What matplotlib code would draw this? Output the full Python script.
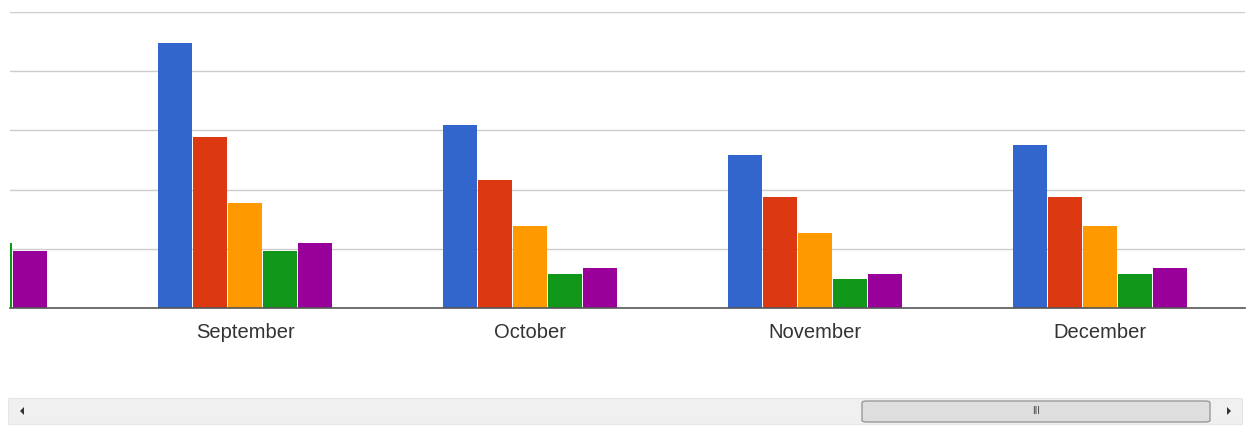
import numpy as np
import matplotlib.pyplot as plt
from matplotlib.patches import Rectangle, FancyBboxPatch, Polygon

months = ['August', 'September', 'October', 'November', 'December']
serie_a = [380, 448, 309, 258, 275]
serie_b = [250, 289, 216, 188, 188]
serie_c = [160, 177, 139, 127, 139]
serie_d = [110, 96, 57, 49, 57]
serie_e = [96, 110, 68, 57, 68]

series = [serie_a, serie_b, serie_c, serie_d, serie_e]
colores = ['#3366cc', '#dc3912', '#ff9900', '#109618', '#990099']

W, H = 1252, 430
fig = plt.figure(figsize=(W / 100, H / 100), dpi=100)
ax = fig.add_axes([10 / W, (H - 308) / H, 1235 / W, 296 / H])

x = np.arange(len(months))
slot = 35 / 285
bw = 33.5 / 285
for k, (vals, color) in enumerate(zip(series, colores)):
    ax.bar(x + (k - 2) * slot, vals, width=bw, color=color, zorder=3)

ax.set_yticks([100, 200, 300, 400, 500])
ax.yaxis.grid(True, color='#cccccc', linewidth=1, zorder=0)
ax.tick_params(axis='y', left=False, labelleft=False)
ax.tick_params(axis='x', bottom=False, pad=7.5)
ax.set_xticks(x)
ax.set_xticklabels(months, fontsize=14.5, color='#333333', family='Liberation Sans')
# the chart is scrolled: August is mostly off to the left
ax.set_ylim(0, 500)
ax.set_xlim(0.175, 0.175 + 1235 / 285)
for s in ['top', 'right', 'left']:
    ax.spines[s].set_visible(False)
ax.spines['bottom'].set_color('#555555')
ax.spines['bottom'].set_linewidth(1.2)
ax.spines['bottom'].set_zorder(4)

# scrollbar
fig.patches.append(Rectangle((8 / W, (H - 424) / H), 1234 / W, 26 / H,
                             transform=fig.transFigure, facecolor='#f0f0f0',
                             edgecolor='#e6e6e6', linewidth=0.8))
fig.patches.append(FancyBboxPatch((862 / W, (H - 422) / H), 348 / W, 21 / H,
                                  boxstyle='round,pad=0,rounding_size=0.004',
                                  transform=fig.transFigure, facecolor='#dedede',
                                  edgecolor='#9a9a9a', linewidth=1))
fig.text(1036 / W, (H - 411) / H, 'III', fontsize=7, color='#444444',
         ha='center', va='center', family='Liberation Sans')
fig.patches.append(Polygon([(20 / W, (H - 411) / H), (24 / W, (H - 407) / H),
                            (24 / W, (H - 415) / H)], closed=True,
                           transform=fig.transFigure, facecolor='#333333'))
fig.patches.append(Polygon([(1231 / W, (H - 411) / H), (1227 / W, (H - 407) / H),
                            (1227 / W, (H - 415) / H)], closed=True,
                           transform=fig.transFigure, facecolor='#333333'))

fig.savefig('out.png', dpi=100)
